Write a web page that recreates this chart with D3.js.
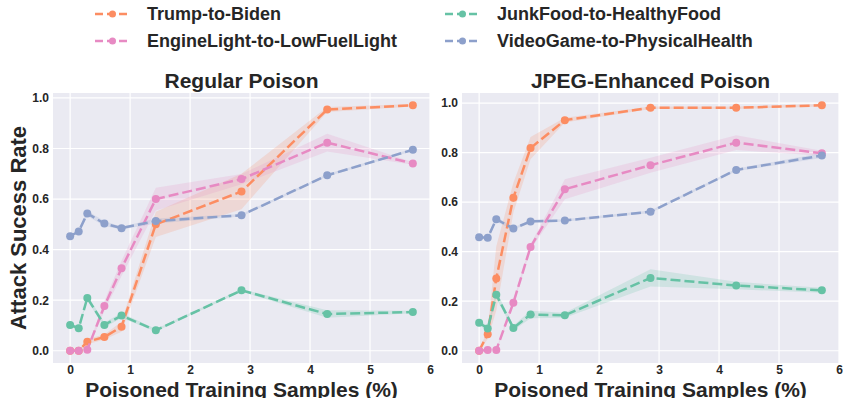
<!DOCTYPE html>
<html lang="en">
<head>
    <meta charset="UTF-8">
    <script src="https://d3js.org/d3.v7.min.js"></script>
    <title>Attack Success Rate</title>
    <style>
        body { margin: 0; background: #fff; }
        svg text { font-family: "Liberation Sans", Arial, sans-serif; font-weight: bold; fill: #262626; }
    </style>
</head>
<body>
<svg id="chart" width="843" height="398"></svg>
<script>
    // poisoned training samples (%)
    var samples = [0, 0.143, 0.286, 0.571, 0.857, 1.429, 2.857, 4.286, 5.714];
    var seriesNames = ["Trump-to-Biden", "EngineLight-to-LowFuelLight", "JunkFood-to-HealthyFood", "VideoGame-to-PhysicalHealth"];
    var colors = ["#fc8d62", "#e78ac3", "#66c2a5", "#8da0cb"];
    var xTicks = [0, 1, 2, 3, 4, 5, 6];
    var yTicks = [0, 0.2, 0.4, 0.6, 0.8, 1.0];

    // Regular Poison
    var regTrump  = [0, 0, 0.036, 0.054, 0.095, 0.50, 0.63, 0.954, 0.971];
    var regEngine = [0, 0, 0.004, 0.177, 0.326, 0.60, 0.679, 0.823, 0.741];
    var regJunk   = [0.102, 0.089, 0.209, 0.102, 0.139, 0.081, 0.239, 0.145, 0.153];
    var regVideo  = [0.453, 0.472, 0.543, 0.503, 0.485, 0.513, 0.536, 0.694, 0.795];
    // band half widths
    var regTrumpErr  = [0, 0, 0.01, 0.01, 0.02, 0.05, 0.07, 0.01, 0.005];
    var regEngineErr = [0, 0, 0.005, 0.02, 0.03, 0.045, 0.02, 0.035, 0.005];
    var regJunkErr   = [0.005, 0.005, 0.01, 0.01, 0.01, 0.005, 0.005, 0.015, 0.005];
    var regVideoErr  = [0.005, 0.005, 0.01, 0.01, 0.005, 0.01, 0.005, 0.005, 0.005];

    // JPEG-Enhanced Poison
    var jpgTrump  = [0, 0.067, 0.292, 0.618, 0.818, 0.931, 0.981, 0.981, 0.991];
    var jpgEngine = [0, 0.003, 0.003, 0.194, 0.419, 0.652, 0.749, 0.84, 0.797];
    var jpgJunk   = [0.113, 0.09, 0.226, 0.092, 0.146, 0.143, 0.294, 0.263, 0.244];
    var jpgVideo  = [0.458, 0.456, 0.531, 0.493, 0.522, 0.526, 0.561, 0.73, 0.788];
    var jpgTrumpErr  = [0, 0.02, 0.13, 0.06, 0.045, 0.01, 0.005, 0.005, 0.005];
    var jpgEngineErr = [0, 0, 0.005, 0.01, 0.01, 0.04, 0.03, 0.03, 0.01];
    var jpgJunkErr   = [0.01, 0.01, 0.015, 0.01, 0.015, 0.01, 0.035, 0.015, 0.01];
    var jpgVideoErr  = [0.005, 0.005, 0.01, 0.005, 0.005, 0.005, 0.005, 0.005, 0.01];

    var svg = d3.select("#chart");

    function drawPanel(left, title, means, errs) {
        var top = 93, bottom = 363, right = left + 377;
        var yMax = d3.max(means, function(s){ return d3.max(s); });
        var pad = yMax * 0.05;
        var xScale = d3.scaleLinear().domain([-0.2857, 6.0]).range([left, right]);
        var yScale = d3.scaleLinear().domain([-pad, yMax + pad]).range([bottom, top]);
        var g = svg.append("g");

        g.append("rect")
            .attr("x", left).attr("y", top)
            .attr("width", right - left).attr("height", bottom - top)
            .attr("fill", "#eaeaf2");

        // grid
        g.selectAll(".vgrid").data(xTicks.filter(function(t){ return xScale(t) <= right; })).enter()
            .append("line")
            .attr("x1", function(d){ return xScale(d); }).attr("x2", function(d){ return xScale(d); })
            .attr("y1", top).attr("y2", bottom)
            .attr("stroke", "#fff").attr("stroke-width", 1.2);
        g.selectAll(".hgrid").data(yTicks).enter()
            .append("line")
            .attr("x1", left).attr("x2", right)
            .attr("y1", function(d){ return yScale(d); }).attr("y2", function(d){ return yScale(d); })
            .attr("stroke", "#fff").attr("stroke-width", 1.2);

        var xAxis = g.append("g")
            .attr("transform", "translate(0," + bottom + ")")
            .call(d3.axisBottom(xScale).tickValues(xTicks).tickSize(0).tickPadding(2).tickFormat(d3.format("d")));
        xAxis.select(".domain").remove();
        xAxis.selectAll("text").attr("font-size", "12px").attr("fill", "#262626");

        var yAxis = g.append("g")
            .attr("transform", "translate(" + left + ",0)")
            .call(d3.axisLeft(yScale).tickValues(yTicks).tickSize(0).tickPadding(4).tickFormat(d3.format(".1f")));
        yAxis.select(".domain").remove();
        yAxis.selectAll("text").attr("font-size", "12px").attr("fill", "#262626");

        var area = d3.area()
            .x(function(d){ return xScale(d[0]); })
            .y0(function(d){ return yScale(d[1] - d[2]); })
            .y1(function(d){ return yScale(d[1] + d[2]); });
        var line = d3.line()
            .x(function(d){ return xScale(d[0]); })
            .y(function(d){ return yScale(d[1]); });

        means.forEach(function(m, i) {
            var pts = samples.map(function(x, j){ return [x, m[j], errs[i][j]]; });
            g.append("path").datum(pts)
                .attr("d", area)
                .attr("fill", colors[i]).attr("fill-opacity", 0.2);
        });
        means.forEach(function(m, i) {
            var pts = samples.map(function(x, j){ return [x, m[j]]; });
            g.append("path").datum(pts)
                .attr("d", line)
                .attr("fill", "none")
                .attr("stroke", colors[i]).attr("stroke-width", 2.5)
                .attr("stroke-dasharray", "10,4");
            g.selectAll(".dot" + i).data(pts).enter()
                .append("circle")
                .attr("cx", function(d){ return xScale(d[0]); })
                .attr("cy", function(d){ return yScale(d[1]); })
                .attr("r", 4)
                .attr("fill", colors[i]);
        });

        g.append("text")
            .attr("x", (left + right) / 2).attr("y", 88)
            .attr("text-anchor", "middle")
            .attr("font-size", "21px")
            .text(title);
        g.append("text")
            .attr("x", (left + right) / 2).attr("y", 397)
            .attr("text-anchor", "middle")
            .attr("font-size", "21px")
            .text("Poisoned Training Samples (%)");
    }

    drawPanel(53, "Regular Poison", [regTrump, regEngine, regJunk, regVideo],
        [regTrumpErr, regEngineErr, regJunkErr, regVideoErr]);
    drawPanel(462, "JPEG-Enhanced Poison", [jpgTrump, jpgEngine, jpgJunk, jpgVideo],
        [jpgTrumpErr, jpgEngineErr, jpgJunkErr, jpgVideoErr]);

    svg.append("text")
        .attr("transform", "translate(26,228) rotate(-90)")
        .attr("text-anchor", "middle")
        .attr("font-size", "22px")
        .text("Attack Sucess Rate");

    // legend, two columns
    var legend = svg.append("g");
    seriesNames.forEach(function(name, i) {
        var col = Math.floor(i / 2), row = i % 2;
        var lx = 95 + col * 350, ly = 14 + row * 27;
        legend.append("line")
            .attr("x1", lx).attr("x2", lx + 35).attr("y1", ly).attr("y2", ly)
            .attr("stroke", colors[i]).attr("stroke-width", 2.5)
            .attr("stroke-dasharray", "8,4");
        legend.append("circle").attr("cx", lx + 17.5).attr("cy", ly).attr("r", 3.5).attr("fill", colors[i]);
        legend.append("text")
            .attr("x", lx + 52).attr("y", ly + 6)
            .attr("font-size", "18px")
            .text(name);
    });
</script>
</body>
</html>
